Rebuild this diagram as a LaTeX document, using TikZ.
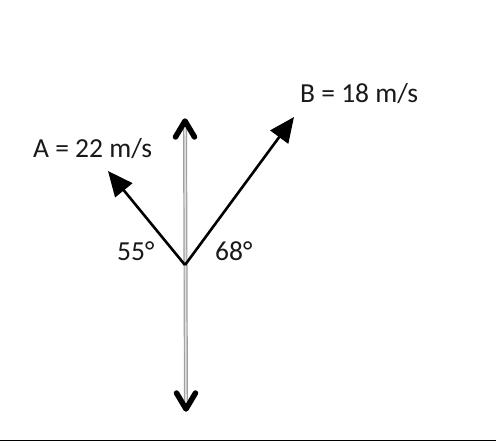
\documentclass[tikz,border=0pt]{standalone}
\usepackage{fontspec}
\setmainfont{Carlito}
\usetikzlibrary{arrows.meta,calc}
\begin{document}
\begin{tikzpicture}[x=1pt,y=-1pt,
  lbl/.style={inner sep=0pt,anchor=base west,text=black!90,font=\fontsize{27.5}{33}\selectfont},
  vec/.style={line width=2.6pt,-{Triangle[length=25pt,width=22pt]}},
  axis/.style={draw=gray!75,line width=4pt},
  axisin/.style={draw=gray!25,line width=1.6pt},
  chev/.style={line width=5.5pt,line join=round,line cap=round}]
\useasboundingbox (0,0) rectangle (496,442);
\coordinate (O) at (185,265);
\coordinate (U) at (185,121);
\coordinate (D) at (186,409);
\coordinate (A) at (108,171);
\coordinate (B) at (294,117);
% vertical double line
\draw[axis] (U) -- (D);
\draw[axisin] (U) -- (D);
% chevron heads
\draw[chev] ($(U)+(-9.5,16)$) -- (U) -- ($(U)+(9.5,16)$);
\draw[chev] ($(D)+(-9.5,-16)$) -- (D) -- ($(D)+(9.5,-16)$);
% vectors
\draw[vec] (O) -- (A);
\draw[vec] (O) -- (B);
% labels
\node[lbl] (labelB) at (300,102) {B = 18 m/s};
\node[lbl] (labelA) at (33,157) {A = 22 m/s};
\node[lbl] (angA) at (117,260) {55°};
\node[lbl] (angB) at (215,260) {68°};
% bottom rule
\draw[line width=1.3pt] (0,440.5) -- (496,440.5);
\end{tikzpicture}
\end{document}
